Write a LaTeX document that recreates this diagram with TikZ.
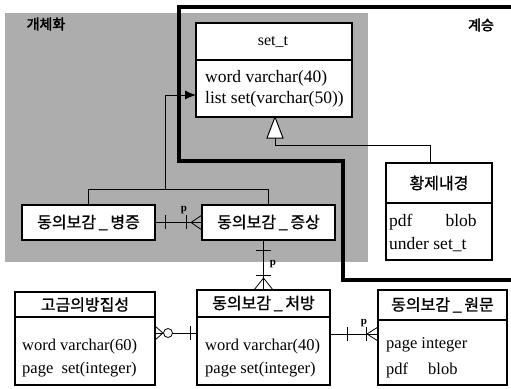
\documentclass[tikz,border=0pt]{standalone}
\usepackage{fontspec}
\setmainfont{Liberation Serif}
\newfontfamily\ko[FakeBold=1]{Noto Sans CJK KR}
\newfontfamily\kob[FakeBold=2.5]{Noto Sans CJK KR}
\usetikzlibrary{arrows.meta}
\begin{document}
\begin{tikzpicture}[x=1pt,y=-1pt,
  box/.style={draw, line width=1.2pt, fill=white, inner sep=0pt, outer sep=0pt, anchor=north west},
  divline/.style={line width=1.1pt},
  kor/.style={font=\ko\fontsize{16}{18}\selectfont, inner sep=0pt},
  korbold/.style={font=\kob\fontsize{14}{16}\selectfont, inner sep=0pt},
  bodyA/.style={font=\fontsize{17.5}{21}\selectfont, anchor=west, inner sep=0pt},
  bodyB/.style={font=\fontsize{16.5}{20}\selectfont, anchor=west, inner sep=0pt},
  plabel/.style={font=\bfseries\fontsize{11}{11}\selectfont, inner sep=0pt},
  conn/.style={line width=0.8pt},
  border/.style={line width=3.5pt}
]
\useasboundingbox (0,0) rectangle (511,388);
% shaded region
\fill[black!32] (5,13) rectangle (368,262);
% thick boundary of the inheritance region
\draw[border] (511,7) -- (179,7) -- (179,161) -- (343,161) -- (343,280) -- (511,280);
% region labels
\node[korbold] (lblA) at (46,24) {개체화};
\node[korbold] (lblB) at (481,25) {계승};

% set_t box
\node[box, minimum width=156pt, minimum height=94pt] (sett) at (196,23) {};
\draw[divline] (sett.west |- 0,60) -- (sett.east |- 0,60);
\node[font=\fontsize{16}{18}\selectfont, inner sep=0pt] (settname) at (273,42) {set\_t};
\node[bodyA] (settb1) at (205,78) {word varchar(40)};
\node[bodyA] (settb2) at (205,99) {list set(varchar(50))};

% 황제내경
\node[box, minimum width=106pt, minimum height=97pt] (hwang) at (386,163) {};
\draw[divline] (hwang.west |- 0,203) -- (hwang.east |- 0,203);
\node[kor] (hwangname) at (439,183) {황제내경};
\node[bodyA] (hwangb1) at (389,222) {pdf\hspace*{33pt}blob};
\node[bodyA] (hwangb2) at (389,245) {under set\_t};

% 동의보감_병증 / 증상
\node[box, minimum width=133pt, minimum height=35pt] (byeong) at (22,205) {};
\node[kor] (byeongname) at (byeong.center) {동의보감\,\_\,병증};
\node[box, minimum width=133pt, minimum height=35pt] (jeung) at (202,205) {};
\node[kor] (jeungname) at (jeung.center) {동의보감\,\_\,증상};

% bottom row
\node[box, minimum width=140pt, minimum height=93pt] (gogeup) at (15,292) {};
\draw[divline] (gogeup.west |- 0,317) -- (gogeup.east |- 0,317);
\node[kor] (gogeupname) at (85,304.5) {고금의방집성};
\node[bodyB] (gogeupb1) at (22,347) {word varchar(60)};
\node[bodyB] (gogeupb2) at (22,370) {page\ \ set(integer)};

\node[box, minimum width=133pt, minimum height=95pt] (cheo) at (197,290) {};
\draw[divline] (cheo.west |- 0,317) -- (cheo.east |- 0,317);
\node[kor] (cheoname) at (263.5,303.5) {동의보감\,\_\,처방};
\node[bodyB] (cheob1) at (205,347) {word varchar(40)};
\node[bodyB] (cheob2) at (205,370) {page set(integer)};

\node[box, minimum width=129pt, minimum height=95pt] (won) at (378,290) {};
\draw[divline] (won.west |- 0,320) -- (won.east |- 0,320);
\node[kor] (wonname) at (442.5,305) {동의보감\,\_\,원문};
\node[bodyB] (wonb1) at (386,345) {page integer};
\node[bodyB] (wonb2) at (386,370) {pdf\hspace*{20pt}blob};

% inheritance: set_t <- 황제내경
\draw[conn, fill=white, line width=1pt] (sett.south -| 275,0) -- (283,138) -- (267,138) -- cycle;
\coordinate (tri) at (275,138);
\draw[conn] (tri) -- (275,145) -| ([xshift=-9pt]hwang.north);

% 병증 / 증상 -> set_t
\draw[conn] (byeong.north) -- (byeong.north |- 0,189) -- (jeung.north |- 0,189) -- (jeung.north);
\draw[conn, -{Latex[length=11pt,width=9pt]}] (165,189) -- (165,95) -- (sett.west |- 0,95);

% 병증 -- 증상
\draw[conn] (byeong.east) -- (jeung.west);
\draw[conn] (165,215) -- (165,229);
\draw[conn] (186,215) -- (186,229);
\draw[conn] (jeung.west |- 0,215) -- (191,222.5) -- (jeung.west |- 0,230);
\node[plabel] (p1) at (184,210) {p};

% 증상 -- 처방
\draw[conn] (jeung.south -| cheo.north) -- (cheo.north);
\draw[conn] (256,250) -- (271,250);
\draw[conn] (256,275) -- (271,275);
\draw[conn] (254,290) -- (263.5,278) -- (273,290);
\node[plabel] (p2) at (273,264) {p};

% 고금의방집성 -- 처방
\draw[conn] (gogeup.east |- 0,333) -- (cheo.west |- 0,333);
\draw[conn] (gogeup.east |- 0,326) -- (163,333) -- (gogeup.east |- 0,340);
\draw[conn, fill=white] (168,333) circle (4.5pt);
\draw[conn] (190,326) -- (190,340);

% 처방 -- 원문
\draw[conn] (cheo.east |- 0,334) -- (won.west |- 0,334);
\draw[conn] (347,327) -- (347,341);
\draw[conn] (366,327) -- (366,341);
\draw[conn] (won.west |- 0,327) -- (367,334) -- (won.west |- 0,341);
\node[plabel] (p3) at (364,323) {p};
\end{tikzpicture}
\end{document}
